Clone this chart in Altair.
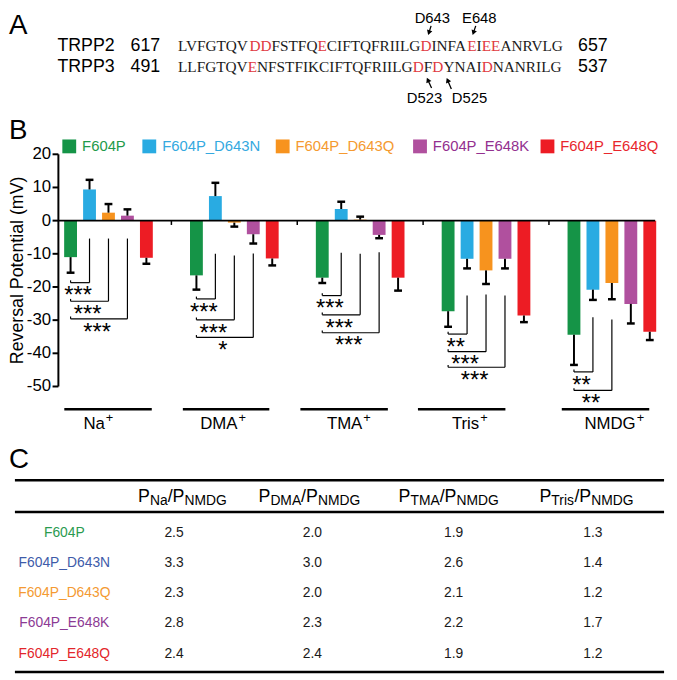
import math
import altair as alt
import pandas as pd

FONT = "Liberation Sans, Arial, Helvetica, sans-serif"
SERIF = "Liberation Serif, Times New Roman, serif"

# ---------------- Panel A : sequence alignment ----------------
SEQ_TRPP2 = "LVFGTQVDDFSTFQECIFTQFRIILGDINFAEIEEANRVLG"
SEQ_TRPP3 = "LLFGTQVENFSTFIKCIFTQFRIILGDFDYNAIDNANRILG"
RED_TRPP2 = [7, 8, 14, 26, 31, 33, 34]
RED_TRPP3 = [7, 26, 28, 33]
ROW_NAMES = ["TRPP2", "TRPP3"]
ROW_START = ["617", "491"]
ROW_END = ["657", "537"]
SITE_LABELS = ["D643", "E648", "D523", "D525"]

# ---------------- Panel B : reversal potentials ----------------
GROUPS = ["Na", "DMA", "TMA", "Tris", "NMDG"]
SERIES = ["F604P", "F604P_D643N", "F604P_D643Q", "F604P_E648K", "F604P_E648Q"]
MEAN_NA = [-11.0, 9.4, 2.4, 1.5, -11.2]
ERR_NA = [4.7, 2.9, 2.6, 1.9, 1.8]
MEAN_DMA = [-16.5, 7.4, -0.6, -4.1, -11.4]
ERR_DMA = [4.3, 4.0, 1.2, 2.8, 2.1]
MEAN_TMA = [-17.2, 3.5, 0.3, -4.3, -17.2]
ERR_TMA = [1.6, 2.2, 0.9, 1.0, 3.9]
MEAN_TRIS = [-27.3, -11.5, -15.0, -11.5, -28.6]
ERR_TRIS = [4.7, 2.9, 4.1, 2.9, 2.0]
MEAN_NMDG = [-34.4, -20.8, -18.8, -25.1, -33.5]
ERR_NMDG = [9.1, 3.1, 4.9, 5.9, 2.5]
MEANS = [MEAN_NA, MEAN_DMA, MEAN_TMA, MEAN_TRIS, MEAN_NMDG]
ERRS = [ERR_NA, ERR_DMA, ERR_TMA, ERR_TRIS, ERR_NMDG]
Y_TICKS = [-50, -40, -30, -20, -10, 0, 10, 20]
Y_TITLE = "Reversal Potential (mV)"

# significance brackets: group, compared series, top, bottom (mV), label
BR_GROUP = [0, 0, 0, 1, 1, 1, 2, 2, 2, 3, 3, 3, 4, 4]
BR_SERIES = [1, 2, 3, 1, 2, 3, 1, 2, 3, 1, 2, 3, 1, 2]
BR_TOP = [-5.4, -5.4, -5.4, -10.0, -10.5, -9.9, -9.7, -10.0, -9.5,
          -22.6, -22.3, -22.6, -29.1, -29.8]
BR_BOT = [-18.7, -24.3, -29.6, -23.6, -29.9, -35.2, -22.6, -28.4, -33.8,
          -34.2, -39.5, -44.2, -45.6, -51.2]
BR_LABEL = ["***", "***", "***", "***", "***", "*", "***", "***", "***",
            "**", "***", "***", "**", "**"]

# ---------------- Panel C : permeability table ----------------
P_NA = [2.5, 3.3, 2.3, 2.8, 2.4]
P_DMA = [2.0, 3.0, 2.0, 2.3, 2.4]
P_TMA = [1.9, 2.6, 2.1, 2.2, 1.9]
P_TRIS = [1.3, 1.4, 1.2, 1.7, 1.2]
HEADER_SUBS = ["Na", "DMA", "TMA", "Tris"]

# ---------------- styles / layout ----------------
BAR_COLORS = ["#159447", "#29ABE2", "#F7931E", "#B0509E", "#ED1C24"]
LEGEND_TEXT_COLORS = ["#1E9A4B", "#35A9DF", "#F59A30", "#93308F", "#E8272D"]
TABLE_COLORS = ["#2A9B50", "#3E5BA9", "#F49A32", "#8C3A94", "#E3262B"]
SEQ_RED = "#E0393E"
W, H = 669, 672
SP = 0.1506          # spacing between bars of a group (group units)
CAP = 0.031          # half width of error caps
X_MIN, X_MAX = -0.398, 4.344
UNIT_PX = 129.5      # pixels per group unit

# page-pixel scales for the annotation panels
pxs = alt.Scale(domain=[8, 8 + W], range=[0, W], nice=False, zero=False)
pys = alt.Scale(domain=[8, 8 + H], range=[0, H], nice=False, zero=False)

# ================= Panel B =================
rows = []
for gi, g in enumerate(GROUPS):
    for si, s in enumerate(SERIES):
        m = MEANS[gi][si]
        e = ERRS[gi][si]
        xx = gi + (si - 2) * SP
        rows.append(dict(group=g, series=s, x=xx, mean=m, zero=0.0,
                         err_end=m + (e if m >= 0 else -e),
                         cx1=xx - CAP, cx2=xx + CAP))
dfb = pd.DataFrame(rows)

xs = alt.Scale(domain=[X_MIN, X_MAX], range=[46, 660], nice=False, zero=False)
ys = alt.Scale(domain=[-50, 20], range=[379, 144], nice=False, zero=False)

bars = alt.Chart(dfb).mark_bar(size=13).encode(
    x=alt.X("x:Q", scale=xs, axis=None),
    y=alt.Y("mean:Q", scale=ys, axis=None),
    y2="zero:Q",
    color=alt.Color("series:N", scale=alt.Scale(domain=SERIES, range=BAR_COLORS), legend=None),
)
err = alt.Chart(dfb).mark_rule(color="black", strokeWidth=2).encode(
    x=alt.X("x:Q", scale=xs, axis=None),
    y=alt.Y("mean:Q", scale=ys, axis=None),
    y2="err_end:Q",
)
caps = alt.Chart(dfb).mark_rule(color="black", strokeWidth=2.5).encode(
    x=alt.X("cx1:Q", scale=xs, axis=None),
    x2="cx2:Q",
    y=alt.Y("err_end:Q", scale=ys, axis=None),
)

# axes drawn from the scales
TICK_LEN = 6 / UNIT_PX
n_t = len(Y_TICKS)
dfy = pd.DataFrame(dict(v=Y_TICKS, lab=[str(v) for v in Y_TICKS],
                        t1=[X_MIN - TICK_LEN] * n_t, t2=[X_MIN] * n_t,
                        lx=[X_MIN - 7.5 / UNIT_PX] * n_t))
dfdom = pd.DataFrame(dict(x=[X_MIN], y1=[min(Y_TICKS)], y2=[max(Y_TICKS)],
                          x2=[X_MAX], y0=[0.0], tx=[X_MIN - 42 / UNIT_PX],
                          ty=[(min(Y_TICKS) + max(Y_TICKS)) / 2], t=[Y_TITLE]))
y_dom = alt.Chart(dfdom).mark_rule(color="black", strokeWidth=2).encode(
    x=alt.X("x:Q", scale=xs, axis=None), y=alt.Y("y1:Q", scale=ys, axis=None), y2="y2:Q")
y_ticks = alt.Chart(dfy).mark_rule(color="black", strokeWidth=2).encode(
    x=alt.X("t1:Q", scale=xs, axis=None), x2="t2:Q",
    y=alt.Y("v:Q", scale=ys, axis=None))
y_labels = alt.Chart(dfy).mark_text(font=FONT, fontSize=17, align="right",
                                    baseline="middle", color="black").encode(
    x=alt.X("lx:Q", scale=xs, axis=None), y=alt.Y("v:Q", scale=ys, axis=None), text="lab:N")
y_title = alt.Chart(dfdom).mark_text(
    font=FONT, fontSize=18, angle=270, align="center", baseline="middle", color="black").encode(
    x=alt.X("tx:Q", scale=xs, axis=None), y=alt.Y("ty:Q", scale=ys, axis=None), text="t:N")
zero_line = alt.Chart(dfdom).mark_rule(color="black", strokeWidth=2).encode(
    x=alt.X("x:Q", scale=xs, axis=None), x2="x2:Q", y=alt.Y("y0:Q", scale=ys, axis=None))

SEP_TICKS = [0.5, 1.5, 2.5, 3.5]
dfz = pd.DataFrame(dict(x=SEP_TICKS, y0=[0.0] * 4, y1=[-1.3] * 4))
zero_ticks = alt.Chart(dfz).mark_rule(color="black", strokeWidth=1.5).encode(
    x=alt.X("x:Q", scale=xs, axis=None), y=alt.Y("y0:Q", scale=ys, axis=None), y2="y1:Q")

br = []
for g, s, t, b, lab in zip(BR_GROUP, BR_SERIES, BR_TOP, BR_BOT, BR_LABEL):
    xg = g + (0 - 2) * SP
    xc = g + (s - 2) * SP
    br.append(dict(xg=xg, xc=xc, top=t, bot=b, hook=b + 0.7,
                   sx=(xg + xc) / 2, label=lab))
dfbr = pd.DataFrame(br)
BRW = 1.2
br_v = alt.Chart(dfbr).mark_rule(color="black", strokeWidth=BRW).encode(
    x=alt.X("xc:Q", scale=xs, axis=None),
    y=alt.Y("top:Q", scale=ys, axis=None), y2="bot:Q")
br_h = alt.Chart(dfbr).mark_rule(color="black", strokeWidth=BRW).encode(
    x=alt.X("xg:Q", scale=xs, axis=None), x2="xc:Q",
    y=alt.Y("bot:Q", scale=ys, axis=None))
br_k = alt.Chart(dfbr).mark_rule(color="black", strokeWidth=BRW).encode(
    x=alt.X("xg:Q", scale=xs, axis=None),
    y=alt.Y("bot:Q", scale=ys, axis=None), y2="hook:Q")
stars = alt.Chart(dfbr).mark_text(font=FONT, fontSize=24, baseline="top",
                                  dy=2, dx=-2, color="black").encode(
    x=alt.X("sx:Q", scale=xs, axis=None),
    y=alt.Y("bot:Q", scale=ys, axis=None), text="label:N")

# group labels with underline
UL_X1 = [-0.351, 0.591, 1.525, 2.459, 3.602]
UL_X2 = [0.344, 1.278, 2.220, 3.154, 4.297]
LBL_XEND = [-0.029, 1.025, 2.017, 2.946, 4.189]
dfg = pd.DataFrame(dict(name=GROUPS, u1=UL_X1, u2=UL_X2, xe=LBL_XEND, plus=["+"] * 5,
                        uy=[-56.85] * 5, ly=[-62.8] * 5))
ul = alt.Chart(dfg).mark_rule(color="black", strokeWidth=2.5).encode(
    x=alt.X("u1:Q", scale=xs, axis=None), x2="u2:Q",
    y=alt.Y("uy:Q", scale=ys, axis=None))
glab = alt.Chart(dfg).mark_text(font=FONT, fontSize=17, align="right",
                                baseline="alphabetic", color="black").encode(
    x=alt.X("xe:Q", scale=xs, axis=None), y=alt.Y("ly:Q", scale=ys, axis=None), text="name:N")
gplus = alt.Chart(dfg).mark_text(font=FONT, fontSize=13, align="left",
                                 baseline="alphabetic", dx=1, dy=-7, color="black").encode(
    x=alt.X("xe:Q", scale=xs, axis=None), y=alt.Y("ly:Q", scale=ys, axis=None), text="plus:N")

panel_b = alt.layer(bars, err, caps, y_dom, y_ticks, y_labels, y_title, zero_line,
                    zero_ticks, br_v, br_h, br_k, stars, ul, glab, gplus)

# ================= Panel A =================
ya = alt.Scale(domain=[0, 1], range=[39, 60.5], nice=False, zero=False)
# Times / Liberation Serif advance widths (em) for run placement
TW = {"A": .722, "C": .667, "D": .722, "E": .611, "F": .556, "G": .722, "I": .333,
      "K": .722, "L": .611, "N": .722, "Q": .722, "R": .667, "S": .556, "T": .611,
      "V": .722, "Y": .722}
SEQ_FS = 15.5
SEQ_X0 = 180
runs = []
for r, (seq, reds) in enumerate([(SEQ_TRPP2, RED_TRPP2), (SEQ_TRPP3, RED_TRPP3)]):
    cum = 0.0
    cur, cur_red, start = "", None, 0.0
    for i, ch in enumerate(seq):
        is_red = i in reds
        if cur and is_red != cur_red:
            runs.append(dict(t=cur, r=r, px=SEQ_X0 + start * SEQ_FS,
                             clr=SEQ_RED if cur_red else "#1a1a1a"))
            cur = ""
        if not cur:
            start, cur_red = cum, is_red
        cur += ch
        cum += TW[ch]
    runs.append(dict(t=cur, r=r, px=SEQ_X0 + start * SEQ_FS,
                     clr=SEQ_RED if cur_red else "#1a1a1a"))
dfs = pd.DataFrame(runs)
seq_text = alt.Chart(dfs).mark_text(font=SERIF, fontSize=SEQ_FS, align="left",
                                    baseline="alphabetic").encode(
    x=alt.X("px:Q", scale=pxs, axis=None), y=alt.Y("r:Q", scale=ya, axis=None),
    text="t:N", color=alt.Color("clr:N", scale=None))

NAME_X, START_X, END_X = 58, 132, 585
dfl = pd.DataFrame(dict(
    t=ROW_NAMES + ROW_START + ROW_END,
    px=[NAME_X] * 2 + [START_X] * 2 + [END_X] * 2,
    r=[0, 1] * 3))
row_text = alt.Chart(dfl).mark_text(font=FONT, fontSize=18, align="left",
                                    baseline="alphabetic", color="black").encode(
    x=alt.X("px:Q", scale=pxs, axis=None), y=alt.Y("r:Q", scale=ya, axis=None), text="t:N")

SITE_POS = [(437.5, -1.30), (485, -1.30), (429.5, 2.465), (475, 2.465)]
ARROW_TAIL = [(436.2, -1.16), (481.4, -1.16), (436.7, 1.767), (456.7, 1.814)]
ARROW_TIP = [(433.3, -0.74), (478.3, -0.74), (431.7, 1.256), (451.7, 1.256)]
PX_R = 21.5
arr = []
for lab, (lx, lr), (tx, tr), (px_, pr) in zip(SITE_LABELS, SITE_POS, ARROW_TAIL, ARROW_TIP):
    dxp, dyp = (px_ - tx), (pr - tr) * PX_R
    ang = math.degrees(math.atan2(dxp, -dyp)) % 360
    hx = tx + 0.75 * (px_ - tx)
    hr = tr + 0.75 * (pr - tr)
    arr.append(dict(lab=lab, lx=lx, lr=lr, tx=tx, tr=tr, hx=hx, hr=hr, ang=ang))
dfa = pd.DataFrame(arr)
site_text = alt.Chart(dfa).mark_text(font=FONT, fontSize=15, align="center",
                                     baseline="alphabetic", color="black").encode(
    x=alt.X("lx:Q", scale=pxs, axis=None), y=alt.Y("lr:Q", scale=ya, axis=None), text="lab:N")
arrow_line = alt.Chart(dfa).mark_rule(color="black", strokeWidth=1.3).encode(
    x=alt.X("tx:Q", scale=pxs, axis=None), y=alt.Y("tr:Q", scale=ya, axis=None),
    x2="hx:Q", y2="hr:Q")
arrow_head = alt.Chart(dfa).mark_point(shape="triangle-up", filled=True, size=32,
                                       color="black", opacity=1).encode(
    x=alt.X("hx:Q", scale=pxs, axis=None), y=alt.Y("hr:Q", scale=ya, axis=None),
    angle=alt.Angle("ang:Q", scale=None))
panel_a = alt.layer(seq_text, row_text, site_text, arrow_line, arrow_head)

# ================= Panel C (table body) =================
COL_X = [65, 176, 316, 459, 600]
rowscale = alt.Scale(type="point", domain=SERIES, range=[527, 649.3], padding=0)
cells = []
for k, s in enumerate(SERIES):
    cells.append(dict(row=s, px=COL_X[0], t=s, clr=TABLE_COLORS[k]))
    for c, col in enumerate([P_NA, P_DMA, P_TMA, P_TRIS]):
        cells.append(dict(row=s, px=COL_X[c + 1], t=f"{col[k]:.1f}", clr="#1a1a1a"))
dfc = pd.DataFrame(cells)
table_text = alt.Chart(dfc).mark_text(font=FONT, fontSize=14, align="center",
                                      baseline="middle").encode(
    x=alt.X("px:Q", scale=pxs, axis=None),
    y=alt.Y("row:N", scale=rowscale, axis=None, sort=SERIES),
    text="t:N", color=alt.Color("clr:N", scale=None))
panel_c = alt.layer(table_text)

# ================= free annotations (page pixel space) =================
letters = pd.DataFrame(dict(t=["A", "B", "C"], px=[9, 9, 9], py=[30, 137, 470]))
letter_text = alt.Chart(letters).mark_text(font=FONT, fontSize=28, align="left",
                                           baseline="alphabetic", color="black").encode(
    x=alt.X("px:Q", scale=pxs, axis=None), y=alt.Y("py:Q", scale=pys, axis=None), text="t:N")

LEG_SQ_X = [70, 151, 286, 425, 554]
LEG_Y = 144
leg = pd.DataFrame(dict(t=SERIES, px=LEG_SQ_X, lx=[v + 13 for v in LEG_SQ_X],
                        py=[LEG_Y] * 5, c=BAR_COLORS, tc=LEGEND_TEXT_COLORS))
leg_sq = alt.Chart(leg).mark_square(size=196, opacity=1).encode(
    x=alt.X("px:Q", scale=pxs, axis=None), y=alt.Y("py:Q", scale=pys, axis=None),
    color=alt.Color("c:N", scale=None))
leg_tx = alt.Chart(leg).mark_text(font=FONT, fontSize=15, align="left", baseline="middle").encode(
    x=alt.X("lx:Q", scale=pxs, axis=None), y=alt.Y("py:Q", scale=pys, axis=None),
    text="t:N", color=alt.Color("tc:N", scale=None))

TABLE_RULE_Y = [482, 514, 676]
rules = pd.DataFrame(dict(x1=[15] * 3, x2=[672] * 3, py=TABLE_RULE_Y))
table_rules = alt.Chart(rules).mark_rule(color="black", strokeWidth=2.5).encode(
    x=alt.X("x1:Q", scale=pxs, axis=None), x2="x2:Q",
    y=alt.Y("py:Q", scale=pys, axis=None))

AW = {"P": .667, "N": .722, "a": .556, "/": .278, "M": .833, "D": .722, "G": .778,
      "T": .611, "A": .667, "r": .333, "i": .222, "s": .5}
def tw(s, fs):
    return sum(AW.get(ch, .556) for ch in s) * fs
HEADER_CX = [184.5, 313, 454, 593.5]
HDR_BASE = 504
hdr = []
for cx, sub in zip(HEADER_CX, HEADER_SUBS):
    pieces = [("P", 18, 0), (sub, 14, 3), ("/P", 18, 0), ("NMDG", 14, 3)]
    total = sum(tw(t, fs) for t, fs, _ in pieces)
    x0 = cx - total / 2
    for t, fs, drop in pieces:
        hdr.append(dict(px=x0, py=HDR_BASE + drop, t=t, fs=fs))
        x0 += tw(t, fs)
dfh = pd.DataFrame(hdr)
hdr_text = alt.Chart(dfh).mark_text(font=FONT, align="left", baseline="alphabetic",
                                    color="black").encode(
    x=alt.X("px:Q", scale=pxs, axis=None), y=alt.Y("py:Q", scale=pys, axis=None),
    text="t:N", size=alt.Size("fs:Q", scale=None))

panel_p = alt.layer(letter_text, leg_sq, leg_tx, table_rules, hdr_text)

chart = alt.layer(panel_b, panel_a, panel_c, panel_p).resolve_scale(
    x="independent", y="independent"
).properties(
    width=W, height=H, padding=0, autosize=alt.AutoSizeParams(type="none")
).configure_view(stroke=None)

chart.save("out.html", embed_options={"renderer": "svg", "actions": False})
